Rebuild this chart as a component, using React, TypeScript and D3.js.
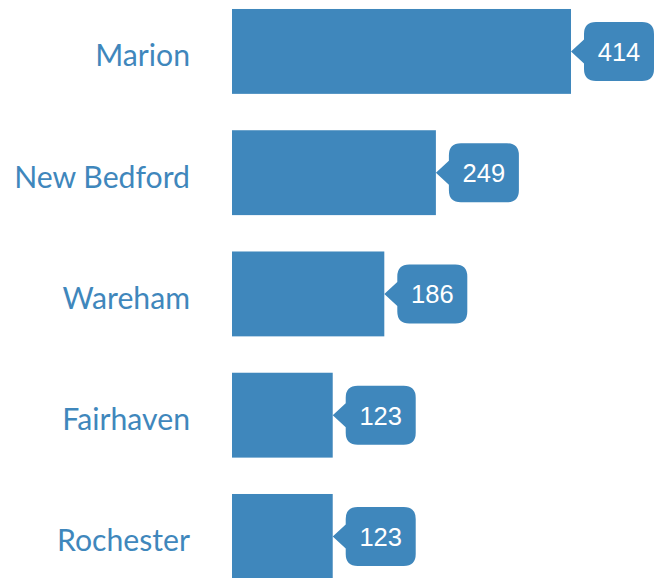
import React from "react";
import * as d3 from "d3";

const categories = ["Marion", "New Bedford", "Wareham", "Fairhaven", "Rochester"];
const values = [414, 249, 186, 123, 123];

const W = 663;
const H = 578;
const COLOR = "#3f87bc";

export default function App() {
  const x = d3.scaleLinear().domain([0, 414]).range([232, 571]);
  const y = d3
    .scaleBand<string>()
    .domain(categories)
    .range([-9.2, 597.05])
    .paddingInner(0.3)
    .paddingOuter(0.15);
  const bw = y.bandwidth();
  const bubbleW = 70;
  const bubbleH = 59;
  const tri = 13;
  const triH = 12;

  return (
    <svg
      width={W}
      height={H}
      style={{ position: "absolute", left: 0, top: 0, display: "block" }}
    >
      <rect width={W} height={H} fill="#fff" />
      {categories.map((c, i) => {
        const y0 = y(c)!;
        const cy = y0 + bw / 2;
        const x1 = x(values[i]);
        const bx = x1 + tri;
        const r = 12;
        const top = cy - bubbleH / 2;
        const bot = cy + bubbleH / 2;
        const right = bx + bubbleW;
        const path = [
          `M${x1},${cy}`,
          `L${bx},${cy - triH}`,
          `L${bx},${top + r}`,
          `Q${bx},${top} ${bx + r},${top}`,
          `L${right - r},${top}`,
          `Q${right},${top} ${right},${top + r}`,
          `L${right},${bot - r}`,
          `Q${right},${bot} ${right - r},${bot}`,
          `L${bx + r},${bot}`,
          `Q${bx},${bot} ${bx},${bot - r}`,
          `L${bx},${cy + triH}`,
          "Z",
        ].join(" ");
        return (
          <g key={c}>
            <text
              x={190}
              y={cy + 15}
              textAnchor="end"
              fontFamily="Lato"
              fontSize={30.2}
              fill={COLOR}
            >
              {c}
            </text>
            <rect x={x(0)} y={y0} width={x1 - x(0)} height={bw} fill={COLOR} />
            <path d={path} fill={COLOR} />
            <text
              x={bx + bubbleW / 2}
              y={cy + 9.5}
              textAnchor="middle"
              fontFamily="'Liberation Sans', Arial, sans-serif"
              fontSize={25.5}
              fill="#fff"
            >
              {values[i]}
            </text>
          </g>
        );
      })}
    </svg>
  );
}
